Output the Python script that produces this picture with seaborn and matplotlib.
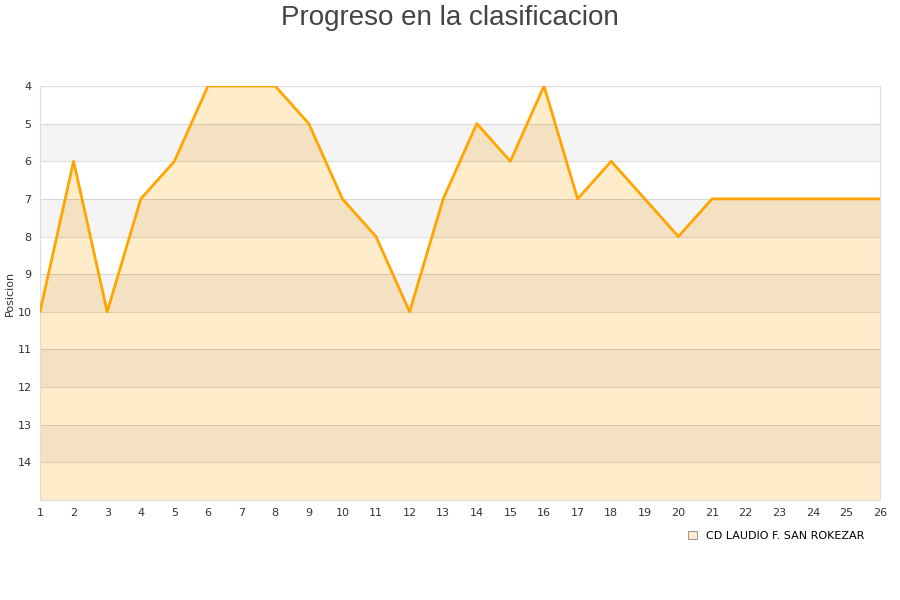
import matplotlib
matplotlib.use("Agg")
import matplotlib.pyplot as plt
import seaborn as sns
import pandas as pd
from matplotlib.patches import Patch

jornadas = list(range(1, 27))
posiciones = [10, 6, 10, 7, 6, 4, 4, 4, 5, 7, 8, 10, 7, 5, 6, 4, 7, 6, 7, 8, 7, 7, 7, 7, 7, 7]
equipo = "CD LAUDIO F. SAN ROKEZAR"
titulo = "Progreso en la clasificacion"
y_label = "Posicion"
y_ticks = list(range(4, 15))

df = pd.DataFrame({"Jornada": jornadas, "Posicion": posiciones})

sns.set_style("white")
plt.rcParams['font.family'] = ['DejaVu Sans']

fig = plt.figure(figsize=(9, 6), dpi=100)
ax = fig.add_axes([40/900, 1-500/600, 840/900, 414/600])

ax.fill_between(df["Jornada"], df["Posicion"], 15, color="#ffecca", lw=0, zorder=1)
# alternating bands (semi-transparent, over the fill)
for y0 in range(4, 15):
    if y0 % 2 == 1:
        ax.axhspan(y0, y0 + 1, color="black", alpha=0.045, zorder=2, lw=0)
for y0 in range(4, 16):
    ax.axhline(y0, color="#000000", alpha=0.12, lw=0.8, zorder=2.5)

sns.lineplot(data=df, x="Jornada", y="Posicion", ax=ax, color="#ffa500", lw=2, zorder=3)

ax.set_xlim(1, 26)
ax.set_ylim(15, 4)
ax.set_xticks(jornadas)
ax.set_yticks(y_ticks)
ax.tick_params(axis="both", labelsize=8, colors="#333333", length=0, pad=6)
ax.set_xlabel("")
ax.set_ylabel(y_label, fontsize=8, color="#333333", labelpad=2)
ax.yaxis.set_label_coords(-0.03, 0.5)
for s in ax.spines.values():
    s.set_color("#dddddd")
    s.set_linewidth(0.8)

fig.suptitle(titulo, fontsize=20, color="#444444", y=0.992, family=["Liberation Sans", "DejaVu Sans"])

handle = Patch(facecolor="#ffecca", edgecolor="#888888", lw=0.6)
fig.legend([handle], [equipo], loc="center right", bbox_to_anchor=(0.971, 1 - 536/600),
           frameon=False, fontsize=8, handlelength=0.8, handleheight=0.8, handletextpad=0.8,
           labelcolor="#000000")

fig.savefig("out.png", dpi=100)
